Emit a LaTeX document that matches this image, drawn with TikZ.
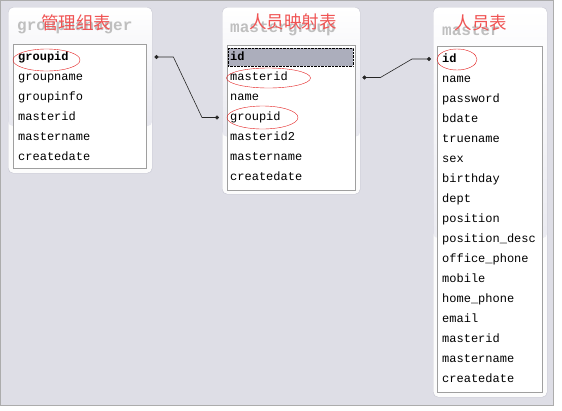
\documentclass[tikz,border=0pt]{standalone}
\usepackage{fontspec}
\setmonofont{Liberation Mono}
\newfontfamily\cjk{Noto Sans CJK SC}
\usetikzlibrary{positioning,arrows.meta}
\definecolor{bgblue}{RGB}{222,222,230}
\definecolor{framegray}{RGB}{196,196,208}
\definecolor{headgray}{RGB}{222,222,232}
\definecolor{titlered}{RGB}{240,84,84}
\definecolor{ringred}{RGB}{228,30,30}
\definecolor{keygray}{RGB}{172,174,188}

\begin{document}
\begin{tikzpicture}[x=1pt, y=-1pt, node distance=20pt,
  tableframe/.style={rectangle, draw=framegray, fill=white!90!bgblue, rounded corners=5pt, anchor=north west, inner sep=0pt,
    path picture={\shade[top color=white, bottom color=headgray] (path picture bounding box.north west) rectangle ([yshift=-36pt]path picture bounding box.east);}},
  listbox/.style={rectangle, draw=gray!75, fill=white, anchor=north west, inner sep=0pt},
  field/.style={font=\ttfamily\fontsize{12}{12}\selectfont, text width=98pt, align=left, inner sep=0pt, text height=8pt, text depth=2pt},
  keyfield/.style={field, font=\ttfamily\bfseries\fontsize{12}{12}\selectfont},
  ghost/.style={font=\ttfamily\bfseries\fontsize{16}{16}\selectfont, text=gray!50, anchor=west, inner sep=0pt},
  title/.style={font=\cjk\fontsize{17.5}{17.5}\selectfont, text=titlered, inner sep=0pt},
  ring/.style={draw=ringred, thin},
  link/.style={{Circle[length=4pt]}-{Circle[length=4pt]}, semithick, black!85}]

% page
\fill[white] (0,0) rectangle (562,410);
\draw[fill=bgblue, draw=gray!65] (0.5,0.5) rectangle (553.5,405.5);

% groupmanager
\node[tableframe, minimum width=144pt, minimum height=166pt] (gmframe) at (8,7) {};
\node[ghost] (gmghost) at (17,28) {groupmanager};
\node[title] (gmtitle) at (76,23) {管理组表};
\node[listbox, minimum width=133pt, minimum height=124pt] (gm) at (13,44) {};
\node[keyfield, anchor=west] (gm-groupid) at (18,57) {groupid};
\node[field, below of=gm-groupid] (gm-groupname) {groupname};
\node[field, below of=gm-groupname] (gm-groupinfo) {groupinfo};
\node[field, below of=gm-groupinfo] (gm-masterid) {masterid};
\node[field, below of=gm-masterid] (gm-mastername) {mastername};
\node[field, below of=gm-mastername] (gm-createdate) {createdate};

% mastergroup
\node[tableframe, minimum width=138pt, minimum height=187pt] (mgframe) at (222,7) {};
\node[ghost] (mgghost) at (230,29) {mastergroup};
\node[title] (mgtitle) at (293,22) {人员映射表};
\node[listbox, minimum width=128pt, minimum height=145pt] (mg) at (227,45) {};
\fill[keygray] (228,48) rectangle (353,66);
\draw[densely dotted, black] (228,48) rectangle (353,66);
\node[keyfield, anchor=west] (mg-id) at (230,57.5) {id};
\node[field, below of=mg-id] (mg-masterid) {masterid};
\node[field, below of=mg-masterid] (mg-name) {name};
\node[field, below of=mg-name] (mg-groupid) {groupid};
\node[field, below of=mg-groupid] (mg-masterid2) {masterid2};
\node[field, below of=mg-masterid2] (mg-mastername) {mastername};
\node[field, below of=mg-mastername] (mg-createdate) {createdate};

% master
\node[tableframe, minimum width=114pt, minimum height=390pt] (msframe) at (433,7) {};
\node[ghost] (msghost) at (442,30) {master};
\node[title] (mstitle) at (481,23) {人员表};
\node[listbox, minimum width=105pt, minimum height=346pt] (ms) at (437,46) {};
\node[keyfield, anchor=west] (ms-id) at (442,59) {id};
\node[field, below of=ms-id] (ms-name) {name};
\node[field, below of=ms-name] (ms-password) {password};
\node[field, below of=ms-password] (ms-bdate) {bdate};
\node[field, below of=ms-bdate] (ms-truename) {truename};
\node[field, below of=ms-truename] (ms-sex) {sex};
\node[field, below of=ms-sex] (ms-birthday) {birthday};
\node[field, below of=ms-birthday] (ms-dept) {dept};
\node[field, below of=ms-dept] (ms-position) {position};
\node[field, below of=ms-position] (ms-positiondesc) {position\_desc};
\node[field, below of=ms-positiondesc] (ms-officephone) {office\_phone};
\node[field, below of=ms-officephone] (ms-mobile) {mobile};
\node[field, below of=ms-mobile] (ms-homephone) {home\_phone};
\node[field, below of=ms-homephone] (ms-email) {email};
\node[field, below of=ms-email] (ms-masterid) {masterid};
\node[field, below of=ms-masterid] (ms-mastername) {mastername};
\node[field, below of=ms-mastername] (ms-createdate) {createdate};

% red marks
\draw[ring] (46.5,60) ellipse (33.5 and 11);
\draw[ring] (268.5,78) ellipse (42 and 10);
\draw[ring] (262.5,117.5) ellipse (35.5 and 11.5);
\draw[ring] (457,59.5) ellipse (20 and 10.5);

% links
\coordinate (gmout) at ([xshift=2pt]gmframe.east |- gm-groupid);
\coordinate (mgin) at ([xshift=-3pt]mgframe.west |- mg-groupid);
\coordinate (mgout) at ([xshift=2pt]mgframe.east |- mg-masterid);
\coordinate (msin) at ([xshift=-2pt]msframe.west |- ms-id);
\draw[link] (gmout) -- ++(19,0) -- ([xshift=-17pt]mgin) -- (mgin);
\draw[link] (mgout) -- ++(18,0) -- ([xshift=-19pt]msin) -- (msin);
\end{tikzpicture}
\end{document}
